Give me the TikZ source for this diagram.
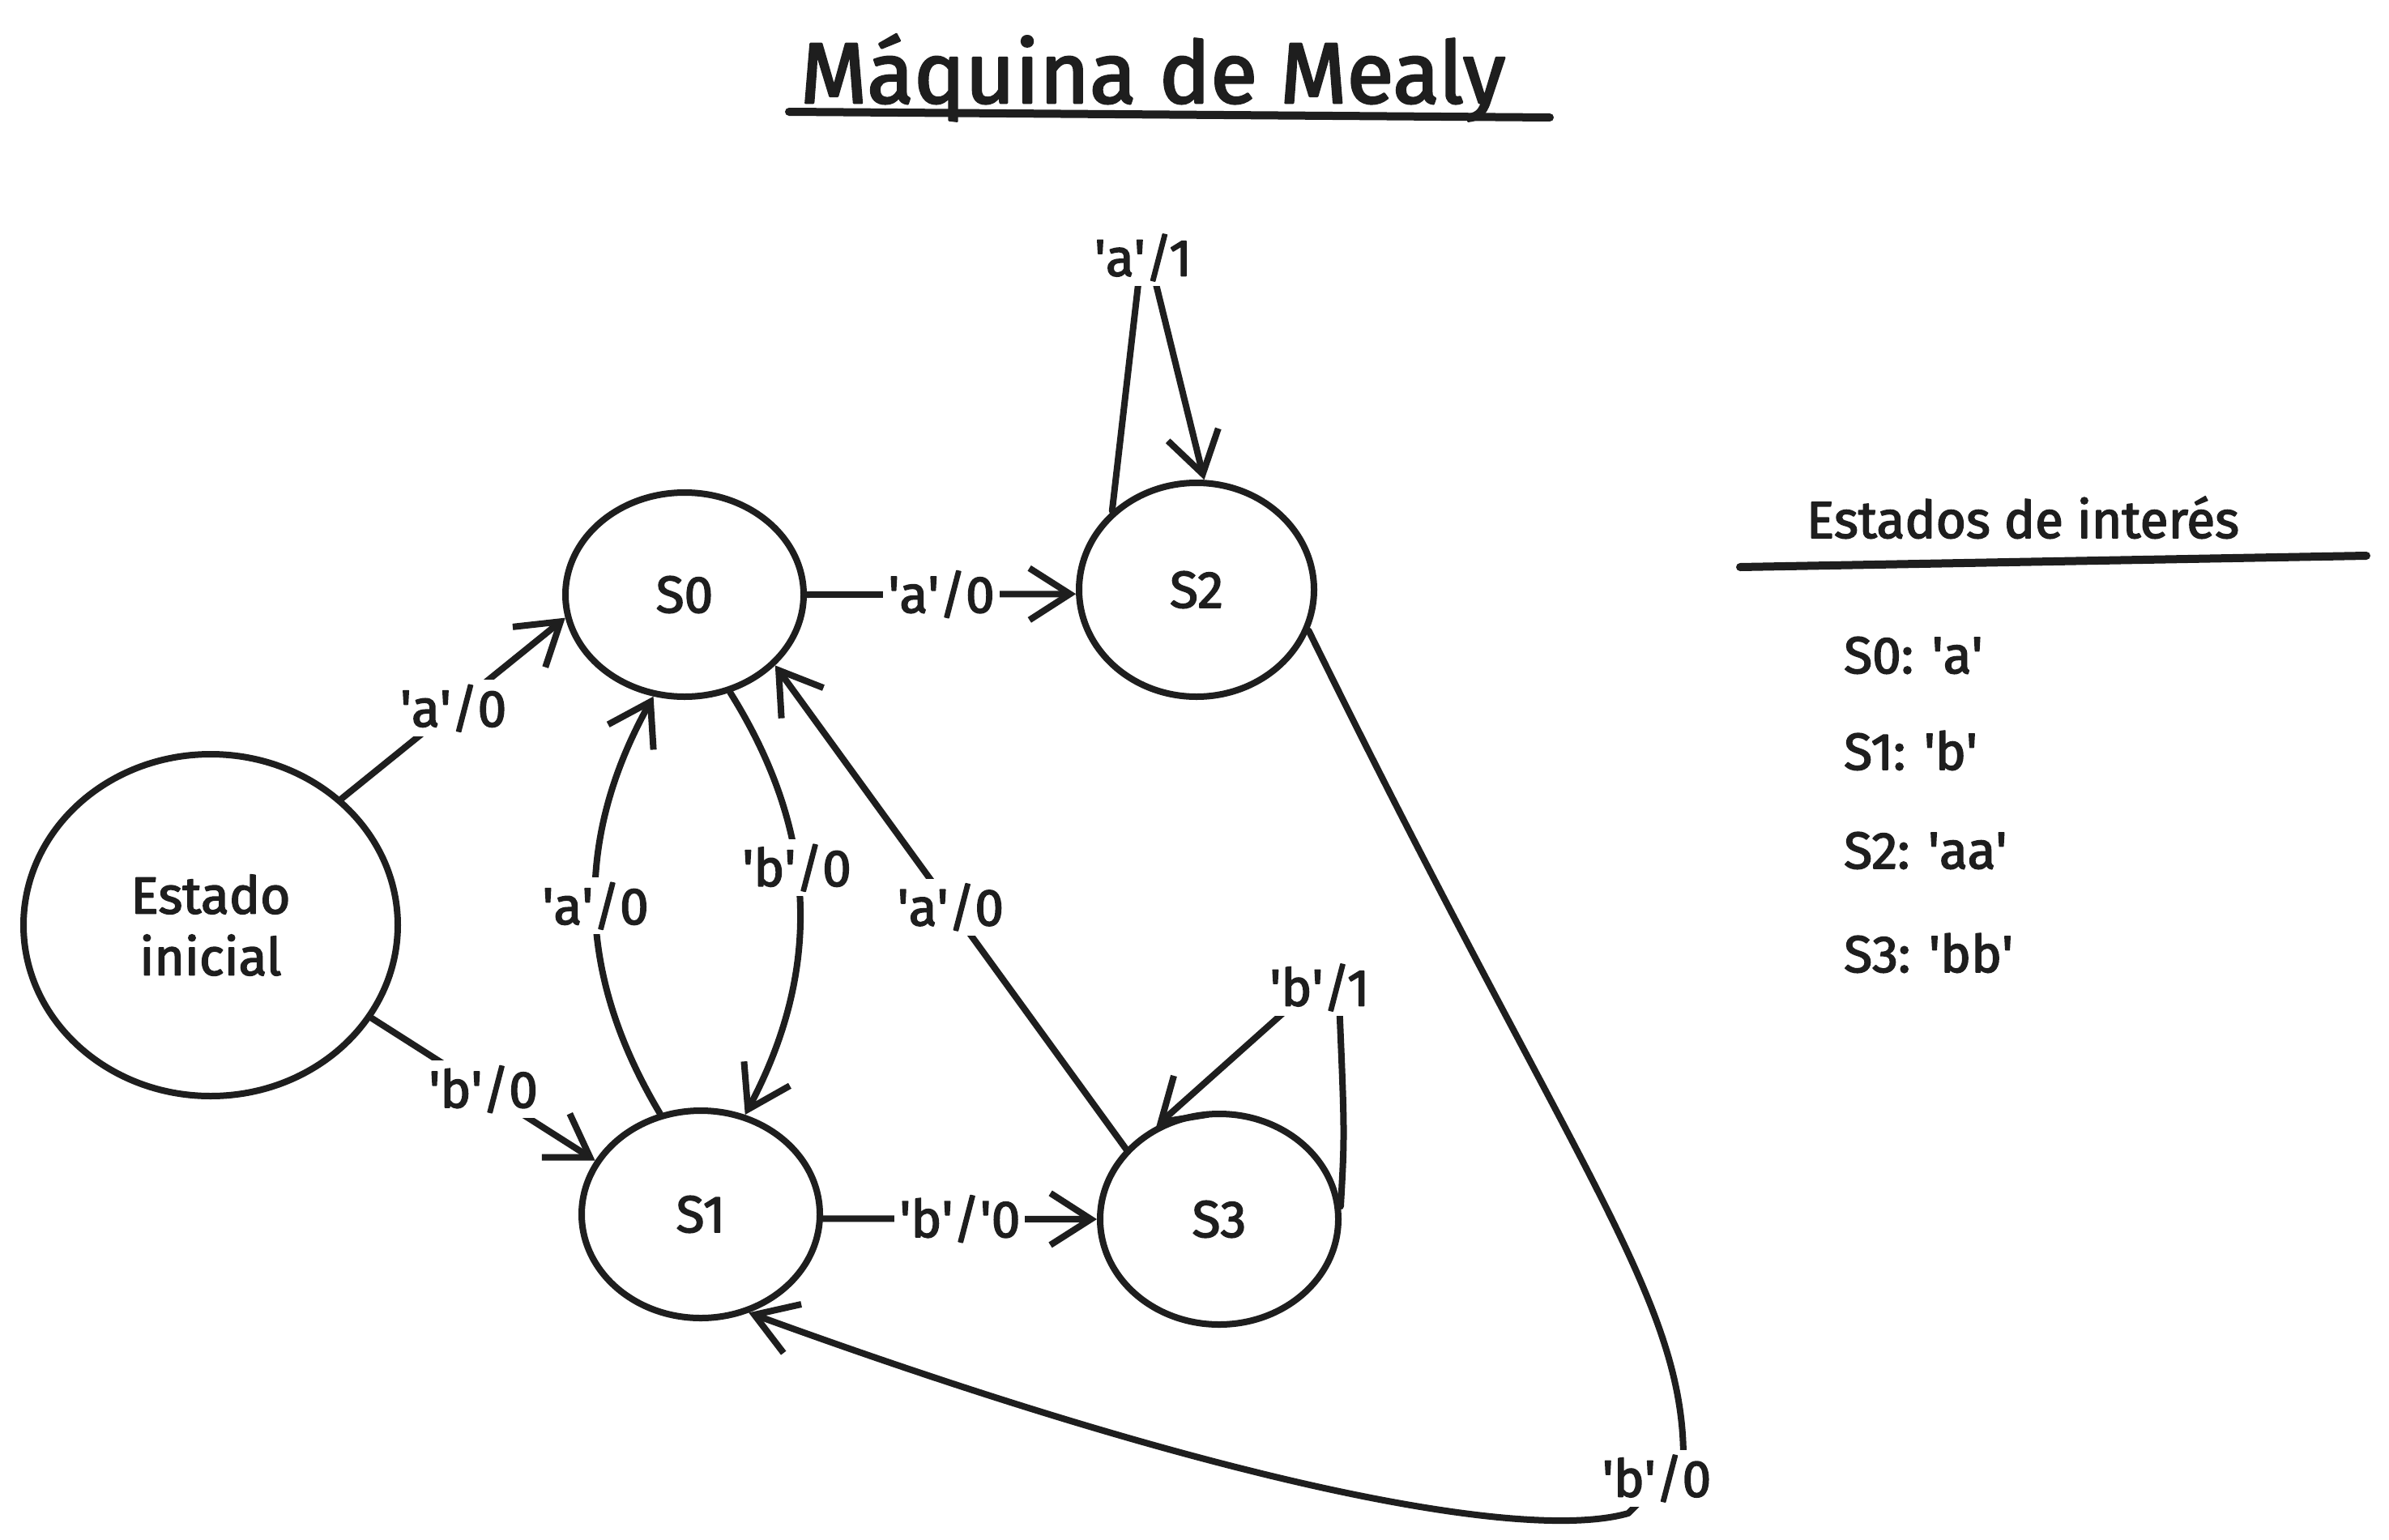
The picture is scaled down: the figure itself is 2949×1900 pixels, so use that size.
\documentclass[tikz,border=0pt]{standalone}
\usepackage{fontspec}
\setmainfont{Fira Sans}[FakeBold=2.5]
\usetikzlibrary{arrows.meta,shapes.geometric}
\definecolor{ink}{HTML}{1E1E1E}
\newcommand{\myq}{\textquotesingle}
\newcommand{\lblfont}{\fontsize{64}{80}\selectfont}
\newcommand{\titlefont}{\fontsize{106}{120}\selectfont}
\begin{document}
\begin{tikzpicture}[x=1pt,y=-1pt,line cap=round,line join=round,
  state/.style={ellipse,draw=ink,line width=8pt,inner sep=0pt,font=\lblfont,text=ink},
  edge/.style={draw=ink,line width=8pt},
  arr/.style={edge,-{Straight Barb[length=50pt,width=64pt]}},
  lab/.style={fill=white,inner sep=6pt,font=\lblfont,text=ink},
  txt/.style={font=\lblfont,text=ink,inner sep=0pt}]
\useasboundingbox (0,0) rectangle (2949,1900);
\fill[white] (0,0) rectangle (2949,1900);

% title
\node[font=\titlefont,text=ink,anchor=base,inner sep=0pt] (title) at (1423,127) {Máquina de Mealy};
\coordinate (tl) at (974,138);
\coordinate (tr) at (1913,145);
\draw[edge,line width=10pt] (tl) -- (tr);

% states
\node[state,minimum width=462pt,minimum height=422pt,align=center] (ini) at (260,1142)
  {Estado\\[-4pt]inicial};
\node[state,minimum width=294pt,minimum height=252pt] (s0) at (845,734) {S0};
\node[state,minimum width=290pt,minimum height=264pt] (s2) at (1477,728) {S2};
\node[state,minimum width=294pt,minimum height=256pt] (s1) at (865,1499) {S1};
\node[state,minimum width=294pt,minimum height=260pt] (s3) at (1505,1505) {S3};

% transitions
\draw[arr] (ini.44) -- node[lab] (l1) {\myq a\myq/0} (s0.191);
\draw[arr] (ini.-30) -- node[lab] (l2) {\myq b\myq/0} (s1.153);
\draw[arr] (s0.east) -- node[lab] (l3) {\myq a\myq/0} (s2.182);
\draw[arr] (s1.112) to[bend left=30] node[lab,pos=0.5] (l4) {\myq a\myq/0} (s0.253);
\draw[arr] (s0.-65) to[bend left=30] node[lab,pos=0.42] (l5) {\myq b\myq/0} (s1.66);
\draw[arr] (s3.143) -- node[lab] (l6) {\myq a\myq/0} (s0.-38);
\draw[arr] (s1.-2) -- node[lab] (l7) {\myq b\myq/\myq 0} (s3.180);

% self loop on S2
\coordinate (apA) at (1412,290);
\draw[arr] (s2.137) -- (apA) -- (s2.86);
\node[lab] (l8) at (1411,318) {\myq a\myq/1};

% self loop on S3
\coordinate (bA) at (1653,1235);
\coordinate (bB) at (1590,1245);
\draw[arr] (s3.6) .. controls (1660,1400) .. (bA) -- (bB) -- (s3.124);
\node[lab] (l9) at (1629,1219) {\myq b\myq/1};

% S2 -> S1 long curve
\coordinate (cA) at (2078,1800);
\coordinate (cB) at (2010,1868);
\draw[arr] (s2.-20) .. controls (1940,1440) and (2078,1600) .. (cA) -- (cB)
  .. controls (1880,1905) and (1500,1830) .. (s1.-64);
\node[lab] (l10) at (2045,1825) {\myq b\myq/0};

% legend
\node[txt,anchor=base] (lt) at (2497,664) {Estados de interés};
\coordinate (ul) at (2148,700);
\coordinate (ur) at (2921,686);
\draw[edge,line width=10pt] (ul) -- (ur);
\node[txt,anchor=base west] (e0) at (2276,831) {S0: \myq a\myq};
\node[txt,anchor=base west] (e1) at (2276,950) {S1: \myq b\myq};
\node[txt,anchor=base west] (e2) at (2276,1072) {S2: \myq aa\myq};
\node[txt,anchor=base west] (e3) at (2276,1200) {S3: \myq bb\myq};
\end{tikzpicture}
\end{document}
